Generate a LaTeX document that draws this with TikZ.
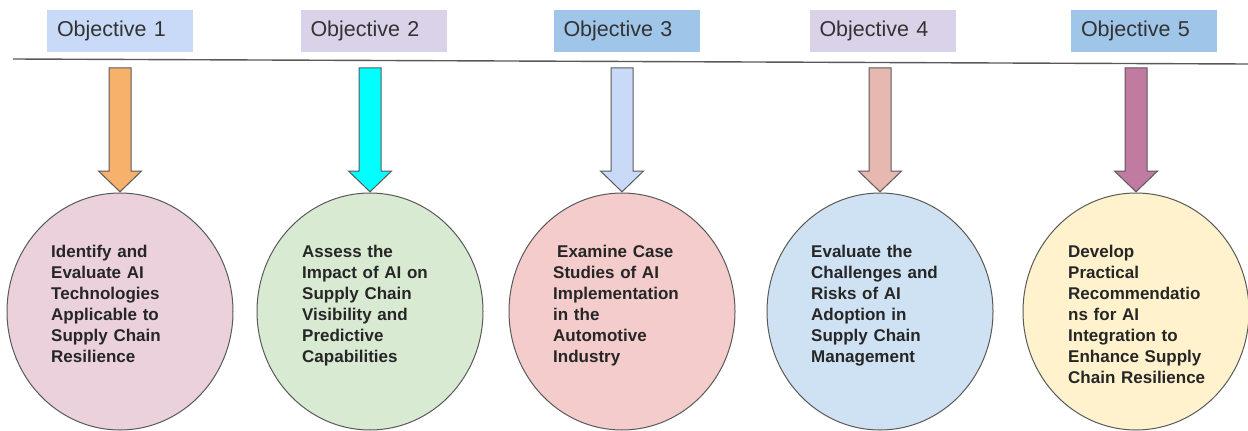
\documentclass[tikz,border=0pt]{standalone}
\usepackage{fontspec}
\setmainfont{Liberation Sans}
\usepackage{xcolor}
\usepackage{tikz}
\usetikzlibrary{shapes.geometric,shapes.arrows,positioning,calc}
\definecolor{objlight}{HTML}{C9DAF8}
\definecolor{objlilac}{HTML}{D9D2E9}
\definecolor{objblue}{HTML}{9FC5E8}
\definecolor{arrorange}{HTML}{F6B26B}
\definecolor{arrcyan}{HTML}{00FFFF}
\definecolor{arrblue}{HTML}{C9DAF8}
\definecolor{arrrose}{HTML}{E6B8AF}
\definecolor{arrmauve}{HTML}{C27BA0}
\definecolor{circpink}{HTML}{EAD1DC}
\definecolor{circgreen}{HTML}{D9EAD3}
\definecolor{circred}{HTML}{F4CCCC}
\definecolor{circblue}{HTML}{CFE2F3}
\definecolor{circyellow}{HTML}{FFF2CC}
\definecolor{edgegray}{HTML}{595959}
\definecolor{labeltext}{HTML}{333333}

\begin{document}
\begin{tikzpicture}[x=1pt,y=1pt,
  objbox/.style={fill=#1,minimum width=146pt,minimum height=42pt,text width=126pt,
                 inner xsep=10pt,inner ysep=0pt,align=left,text=labeltext,
                 font=\fontsize{21.5}{24}\selectfont},
  blockarr/.style={single arrow,draw=edgegray,line width=1pt,shape border rotate=270,
                   minimum height=124pt,minimum width=42pt,single arrow head extend=10.5pt,
                   single arrow tip angle=92,inner sep=10.5pt,anchor=tip},
  circ/.style={ellipse,draw=edgegray,line width=1pt,fill=#1,
               minimum width=226pt,minimum height=237pt,inner sep=0pt},
  goal/.style={anchor=north west,text width=150pt,align=left,inner sep=0pt,
               font=\bfseries\fontsize{17}{21}\selectfont,text=black!85},
  rule/.style={draw=edgegray,line width=1.4pt}
]
\useasboundingbox (0,0) rectangle (1248,-431);

% objective labels and the rule under them
\node[objbox=objlight] (o1) at (120,-31) {Objective 1};
\node[objbox=objlilac] (o2) at (373.5,-31) {Objective 2};
\node[objbox=objblue] (o3) at (626.5,-31) {Objective 3};
\node[objbox=objlilac] (o4) at (882.5,-31) {Objective 4};
\node[objbox=objblue] (o5) at (1144,-31) {Objective 5};
\coordinate (rl) at (13,-59);
\coordinate (rr) at (1248,-64);
\draw[rule] (rl) -- (rr);

% circles
\node[circ=circpink] (c1) at (120,-311.5) {};
\node[circ=circgreen] (c2) at (370,-311.5) {};
\node[circ=circred] (c3) at (622,-311.5) {};
\node[circ=circblue] (c4) at (880,-311.5) {};
\node[circ=circyellow] (c5) at (1136,-311.5) {};

% block arrows into the circles
\node[blockarr,fill=arrorange] (a1) at (c1.north) {};
\node[blockarr,fill=arrcyan] (a2) at (c2.north) {};
\node[blockarr,fill=arrblue] (a3) at (c3.north) {};
\node[blockarr,fill=arrrose] (a4) at (c4.north) {};
\node[blockarr,fill=arrmauve] (a5) at (c5.north) {};

% circle texts
\node[goal] (t1) at ($(c1.center)+(-69,66.5)$) {Identify and\\Evaluate AI\\Technologies\\Applicable to\\Supply Chain\\Resilience};
\node[goal] (t2) at ($(c2.center)+(-68,66.5)$) {Assess the\\Impact of AI on\\Supply Chain\\Visibility and\\Predictive\\Capabilities};
\node[goal] (t3) at ($(c3.center)+(-69,66.5)$) {\hspace*{4pt}Examine Case\\Studies of AI\\Implementation\\in the\\Automotive\\Industry};
\node[goal] (t4) at ($(c4.center)+(-69,66.5)$) {Evaluate the\\Challenges and\\Risks of AI\\Adoption in\\Supply Chain\\Management};
\node[goal] (t5) at ($(c5.center)+(-68,66.5)$) {Develop\\Practical\\Recommendatio\\ns for AI\\Integration to\\Enhance Supply\\Chain Resilience};
\end{tikzpicture}
\end{document}
